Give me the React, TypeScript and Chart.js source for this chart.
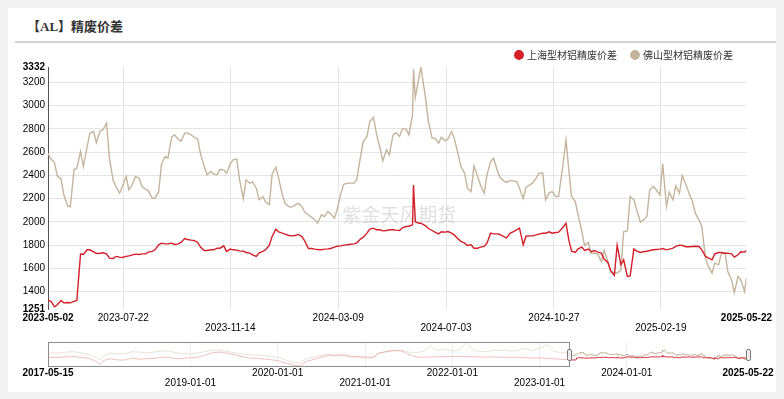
import React, { useEffect, useRef } from 'react';
import { Chart, registerables } from 'chart.js';
Chart.register(...registerables);

const BASE = Date.UTC(2023, 4, 2);
const toDay = (s: string) =>
  (Date.UTC(+s.slice(0, 4), +s.slice(5, 7) - 1, +s.slice(8, 10)) - BASE) / 86400000;

const SANS = '"Liberation Sans", Arial, sans-serif';
const CJK = '"Noto Sans CJK SC", sans-serif';
const RED = '#d31f2a';
const TAN = '#c4b49b';

const seriesNames = ['上海型材铝精废价差', '佛山型材铝精废价差'];

const dates = [
  '2023-05-02','2023-05-05','2023-05-09','2023-05-12','2023-05-16','2023-05-19','2023-05-23','2023-05-26','2023-05-30','2023-06-02',
  '2023-06-06','2023-06-09','2023-06-13','2023-06-16','2023-06-20','2023-06-23','2023-06-27','2023-06-30','2023-07-04','2023-07-07',
  '2023-07-11','2023-07-14','2023-07-18','2023-07-21','2023-07-25','2023-07-28','2023-08-01','2023-08-04','2023-08-08','2023-08-11',
  '2023-08-15','2023-08-18','2023-08-22','2023-08-25','2023-08-29','2023-09-01','2023-09-05','2023-09-08','2023-09-12','2023-09-15',
  '2023-09-19','2023-09-22','2023-09-26','2023-09-29','2023-10-03','2023-10-06','2023-10-10','2023-10-13','2023-10-17','2023-10-20',
  '2023-10-24','2023-10-27','2023-10-31','2023-11-03','2023-11-07','2023-11-10','2023-11-14','2023-11-17','2023-11-21','2023-11-24',
  '2023-11-28','2023-12-01','2023-12-05','2023-12-08','2023-12-12','2023-12-15','2023-12-19','2023-12-22','2023-12-26','2023-12-29',
  '2024-01-02','2024-01-05','2024-01-09','2024-01-12','2024-01-16','2024-01-19','2024-01-23','2024-01-26','2024-01-30','2024-02-02',
  '2024-02-06','2024-02-09','2024-02-13','2024-02-16','2024-02-20','2024-02-23','2024-02-27','2024-03-01','2024-03-05','2024-03-08',
  '2024-03-12','2024-03-15','2024-03-19','2024-03-22','2024-03-26','2024-03-29','2024-04-02','2024-04-05','2024-04-09','2024-04-12',
  '2024-04-16','2024-04-19','2024-04-23','2024-04-26','2024-04-30','2024-05-03','2024-05-07','2024-05-10','2024-05-14','2024-05-17',
  '2024-05-21','2024-05-24','2024-05-28','2024-05-29','2024-05-31','2024-06-04','2024-06-06','2024-06-11','2024-06-14','2024-06-18','2024-06-21',
  '2024-06-25','2024-06-28','2024-07-02','2024-07-05','2024-07-09','2024-07-12','2024-07-16','2024-07-19','2024-07-23','2024-07-26',
  '2024-07-30','2024-08-02','2024-08-06','2024-08-09','2024-08-13','2024-08-16','2024-08-20','2024-08-23','2024-08-27','2024-08-30',
  '2024-09-03','2024-09-06','2024-09-10','2024-09-13','2024-09-17','2024-09-20','2024-09-24','2024-09-27','2024-10-01','2024-10-04',
  '2024-10-08','2024-10-11','2024-10-15','2024-10-18','2024-10-22','2024-10-25','2024-10-29','2024-11-01','2024-11-05','2024-11-09',
  '2024-11-12','2024-11-15','2024-11-19','2024-11-22','2024-11-26','2024-11-29','2024-12-03','2024-12-06','2024-12-10','2024-12-13',
  '2024-12-17','2024-12-20','2024-12-24','2024-12-27','2024-12-31','2025-01-03','2025-01-07','2025-01-10','2025-01-14','2025-01-17',
  '2025-01-21','2025-01-24','2025-01-28','2025-01-31','2025-02-04','2025-02-07','2025-02-11','2025-02-14','2025-02-18','2025-02-21',
  '2025-02-25','2025-02-28','2025-03-04','2025-03-07','2025-03-11','2025-03-14','2025-03-18','2025-03-21','2025-03-25','2025-03-28',
  '2025-04-01','2025-04-04','2025-04-08','2025-04-11','2025-04-15','2025-04-18','2025-04-22','2025-04-25','2025-04-29','2025-05-02',
  '2025-05-06','2025-05-09','2025-05-13','2025-05-16','2025-05-20','2025-05-22'
];

const shValues = [
  1324,1319,1270,1287,1324,1304,1307,1304,1316,1324,
  1725,1720,1760,1760,1743,1728,1731,1734,1725,1688,
  1685,1703,1697,1694,1703,1708,1717,1723,1720,1725,
  1725,1740,1746,1760,1803,1817,1811,1811,1817,1806,
  1811,1823,1857,1849,1843,1840,1823,1783,1754,1754,
  1760,1760,1774,1774,1794,1746,1766,1760,1757,1751,
  1748,1737,1731,1717,1703,1734,1746,1760,1800,1874,
  1938,1915,1903,1895,1883,1880,1883,1892,1874,1837,
  1771,1771,1766,1763,1760,1766,1768,1771,1783,1791,
  1794,1800,1803,1808,1811,1820,1852,1869,1903,1938,
  1946,1932,1932,1923,1926,1932,1932,1929,1926,1949,
  1960,1963,1975,2318,2001,1989,1989,1966,1943,1926,1912,
  1897,1915,1912,1917,1903,1886,1854,1832,1817,1797,
  1803,1774,1774,1783,1789,1817,1903,1897,1897,1892,
  1874,1863,1903,1915,1932,1946,1803,1877,1880,1880,
  1889,1895,1903,1903,1915,1903,1909,1912,1946,1989,
  1846,1748,1737,1768,1783,1754,1766,1743,1754,1740,
  1731,1680,1651,1582,1540,1800,1631,1674,1531,1536,
  1768,1748,1737,1743,1748,1754,1760,1763,1766,1771,
  1760,1766,1774,1789,1800,1797,1786,1786,1789,1791,
  1789,1760,1703,1691,1674,1725,1737,1737,1731,1731,
  1725,1697,1717,1743,1740,1754
];

const fsValues = [
  2590,2542,2510,2396,2370,2233,2140,2130,2450,2462,
  2605,2476,2640,2763,2777,2682,2782,2791,2850,2548,
  2360,2304,2247,2304,2390,2275,2327,2390,2376,2304,
  2281,2267,2204,2204,2260,2496,2562,2548,2730,2748,
  2711,2694,2763,2763,2748,2728,2711,2585,2476,2405,
  2433,2413,2405,2453,2447,2419,2499,2533,2540,2362,
  2200,2362,2333,2344,2290,2190,2218,2170,2150,2413,
  2470,2376,2233,2158,2132,2127,2147,2161,2132,2084,
  2061,2041,2018,1989,2061,2046,2089,2069,2032,2109,
  2247,2324,2333,2333,2333,2362,2562,2691,2734,2863,
  2900,2763,2634,2525,2620,2576,2748,2768,2734,2800,
  2800,2748,2920,3313,3072,3250,3330,3063,2863,2720,2720,
  2677,2728,2697,2711,2777,2714,2582,2476,2419,2290,
  2261,2482,2390,2316,2247,2405,2519,2548,2447,2384,
  2353,2339,2356,2353,2347,2290,2200,2296,2319,2333,
  2376,2419,2420,2190,2250,2261,2218,2218,2447,2705,
  2450,2218,2175,2061,1917,1797,1823,1731,1731,1723,
  1660,1754,1660,1568,1565,1559,1588,1917,1923,2218,
  2190,2104,1998,2015,2046,2276,2304,2276,2232,2500,
  2132,2256,2190,2310,2247,2399,2319,2253,2175,2075,
  2018,1960,1688,1617,1559,1645,1631,1725,1731,1574,
  1502,1393,1531,1502,1402,1516
];

const yTicks = [1251, 1400, 1600, 1800, 2000, 2200, 2400, 2600, 2800, 3000, 3200, 3332];
const xTickDates = ['2023-05-02','2023-07-22','2023-11-14','2024-03-09','2024-07-03','2024-10-27','2025-02-19','2025-05-22'];
const xTickRow2 = ['2023-11-14','2024-07-03','2025-02-19'];

// overview (slider) history before the visible window
const histDates = [
  '2017-05-15','2017-06-01','2017-07-01','2017-08-01','2017-09-01','2017-10-01','2017-11-01','2017-12-01','2017-12-20','2018-01-01',
  '2018-02-01','2018-03-01','2018-04-01','2018-05-01','2018-06-01','2018-07-01','2018-08-01','2018-09-01','2018-10-01','2018-11-01',
  '2018-12-01','2019-01-01','2019-02-01','2019-03-01','2019-04-01','2019-05-01','2019-06-01','2019-07-01','2019-08-01','2019-09-01',
  '2019-10-01','2019-11-01','2019-12-01','2020-01-01','2020-02-01','2020-03-01','2020-04-01','2020-05-01','2020-06-01','2020-07-01',
  '2020-08-01','2020-09-01','2020-10-01','2020-11-01','2020-12-01','2021-01-01','2021-02-01','2021-03-01','2021-04-01','2021-05-01',
  '2021-06-01','2021-07-01','2021-08-01','2021-09-01','2021-10-01','2021-11-01','2021-12-01','2022-01-01','2022-02-01','2022-03-01',
  '2022-04-01','2022-05-01','2022-06-01','2022-07-01','2022-08-01','2022-09-01','2022-10-01','2022-11-01','2022-12-01','2023-01-01',
  '2023-02-01','2023-03-01','2023-04-01','2023-05-01'
];
const histFs = [
  2721,2721,2721,2924,2990,2721,2450,1841,1367,2044,
  2721,2518,2585,2990,2924,2721,2924,3127,3127,2788,
  2585,2585,2721,2990,3262,3330,3059,2788,2518,2382,
  2315,2180,2044,1841,1367,894,691,1571,1909,2247,
  2450,2382,2518,2180,1909,1638,1706,2721,3059,3262,
  3262,2924,2788,3059,4075,3195,3601,3059,3398,4900,
  3195,2990,3059,3262,3262,3127,3195,3668,3195,3736,
  4345,3059,2788,2721
];
const histSh = [
  1841,1841,1841,1976,1976,1841,1638,1029,352,1165,
  1571,1300,1300,1706,1435,1571,1638,1841,1841,1571,
  1638,1774,1841,2247,2721,2924,2721,2382,2044,1706,
  1638,1503,1367,1165,691,352,82,1029,1435,1841,
  2247,2112,2247,1909,1976,1909,1841,2721,2990,3195,
  3127,2518,1909,1841,1909,1976,1976,2044,2044,1976,
  1976,1909,1909,1909,1841,1841,1841,1774,1706,1706,
  1638,1571,1435,1367
];
const sliderTickDates = ['2017-05-15','2019-01-01','2020-01-01','2021-01-01','2022-01-01','2023-01-01','2024-01-01','2025-05-22'];
const sliderRow2 = ['2019-01-01','2021-01-01','2023-01-01'];

const pts = (ds: string[], vs: number[]) => ds.map((d, i) => ({ x: toDay(d), y: vs[i] }));
const CLEAR = 'rgba(0,0,0,0)';

export default function App() {
  const mainRef = useRef<HTMLCanvasElement>(null);
  const sliderRef = useRef<HTMLCanvasElement>(null);

  useEffect(() => {
    document.body.style.background = '#f2f2f2';
    const endDay = toDay('2025-05-22');

    const watermark = {
      id: 'watermark',
      beforeDatasetsDraw(chart: any) {
        const { ctx, chartArea } = chart;
        ctx.save();
        ctx.font = '19px ' + CJK;
        ctx.fillStyle = 'rgba(0,0,0,0.13)';
        ctx.textAlign = 'center';
        ctx.textBaseline = 'middle';
        ctx.fillText('紫金天风期货', (chartArea.left + chartArea.right) / 2 + 2, chartArea.top + 148);
        ctx.restore();
      },
    };

    const main = new Chart(mainRef.current!, {
      type: 'line',
      data: {
        datasets: [
          { label: seriesNames[0], data: pts(dates, shValues), borderColor: RED, backgroundColor: RED, borderWidth: 1.4, pointRadius: 0, tension: 0 },
          { label: seriesNames[1], data: pts(dates, fsValues), borderColor: TAN, backgroundColor: TAN, borderWidth: 1.4, pointRadius: 0, tension: 0 },
        ],
      },
      options: {
        animation: false,
        responsive: false,
        maintainAspectRatio: false,
        layout: { padding: { left: 0, right: 28, top: 0, bottom: 0 } },
        plugins: {
          legend: {
            position: 'top',
            align: 'end',
            maxHeight: 32,
            labels: {
              usePointStyle: true,
              pointStyle: 'circle',
              boxWidth: 6,
              boxHeight: 6,
              padding: 15,
              color: '#333',
              font: { size: 10, family: CJK },
            },
          },
          tooltip: { enabled: false },
        },
        scales: {
          x: {
            type: 'linear',
            min: 0,
            max: endDay,
            afterBuildTicks: (s: any) => { s.ticks = xTickDates.map((d) => ({ value: toDay(d) })); },
            afterFit: (s: any) => { s.height = 26; },
            border: { display: false },
            grid: {
              drawTicks: false,
              color: (c: any) => (c.index === 0 || c.index === xTickDates.length - 1 ? CLEAR : '#e4e4e4'),
            },
            ticks: {
              autoSkip: false,
              maxRotation: 0,
              padding: 4,
              color: '#000',
              font: (c: any) => ({ size: 10, family: SANS, lineHeight: 1, weight: c.index === 0 || c.index === xTickDates.length - 1 ? 'bold' : 'normal' }),
              callback: (_v: any, i: number) => {
                const d = xTickDates[i];
                return xTickRow2.includes(d) ? ['', d] : d;
              },
            },
          },
          y: {
            min: 1251,
            max: 3332,
            afterBuildTicks: (s: any) => { s.ticks = yTicks.map((v) => ({ value: v })); },
            afterFit: (s: any) => { s.width = 40; },
            border: { display: true, color: '#555' },
            grid: {
              drawTicks: false,
              color: (c: any) => (c.index === 0 || c.index === yTicks.length - 1 ? CLEAR : '#e4e4e4'),
            },
            ticks: {
              autoSkip: false,
              padding: 3,
              color: '#000',
              font: (c: any) => ({ size: 10, family: SANS, weight: c.index === 0 || c.index === yTicks.length - 1 ? 'bold' : 'normal' }),
              callback: (v: any) => String(v),
            },
          },
        },
      },
      plugins: [watermark],
    } as any);

    const sliderDeco = {
      id: 'sliderDeco',
      afterDraw(chart: any) {
        const { ctx, chartArea } = chart;
        const xs = chart.scales.x;
        const x0 = Math.round(xs.getPixelForValue(toDay('2017-05-15')));
        const x1 = Math.round(xs.getPixelForValue(0));
        const x2 = Math.round(xs.getPixelForValue(endDay));
        const top = Math.round(chartArea.top);
        const bottom = Math.round(chartArea.bottom);
        ctx.save();
        ctx.strokeStyle = '#8c8c8c';
        ctx.lineWidth = 1;
        ctx.strokeRect(x0 + 0.5, top + 0.5, x1 - x0, bottom - top - 1);
        [x1, x2].forEach((x) => {
          ctx.beginPath();
          ctx.roundRect(x - 2 + 0.5, top + 7.5, 4, 11, 1.5);
          ctx.fillStyle = '#eeeeee';
          ctx.fill();
          ctx.strokeStyle = '#7a7a7a';
          ctx.stroke();
        });
        ctx.restore();
      },
    };

    const slider = new Chart(sliderRef.current!, {
      type: 'line',
      data: {
        datasets: [
          { data: pts(dates, shValues), borderColor: RED, borderWidth: 1, pointRadius: 0, tension: 0 },
          { data: pts(dates, fsValues), borderColor: '#b9a78c', borderWidth: 1, pointRadius: 0, tension: 0 },
          { data: pts(histDates, histSh), borderColor: 'rgba(220,90,90,0.38)', borderWidth: 1, pointRadius: 0, tension: 0 },
          { data: pts(histDates, histFs), borderColor: 'rgba(190,172,145,0.35)', borderWidth: 1, pointRadius: 0, tension: 0 },
        ],
      },
      options: {
        animation: false,
        responsive: false,
        maintainAspectRatio: false,
        layout: { padding: { left: 40, right: 28, top: 4, bottom: 0 } },
        plugins: { legend: { display: false }, tooltip: { enabled: false } },
        scales: {
          x: {
            type: 'linear',
            min: toDay('2017-05-15'),
            max: endDay,
            afterBuildTicks: (s: any) => { s.ticks = sliderTickDates.map((d) => ({ value: toDay(d) })); },
            afterFit: (s: any) => { s.height = 25; },
            border: { display: false },
            grid: {
              drawTicks: false,
              color: (c: any) => (c.index === 0 || c.index === sliderTickDates.length - 1 ? CLEAR : '#f0f0f0'),
            },
            ticks: {
              autoSkip: false,
              maxRotation: 0,
              padding: 1,
              color: '#000',
              font: (c: any) => ({ size: 10, family: SANS, lineHeight: 1, weight: c.index === 0 || c.index === sliderTickDates.length - 1 ? 'bold' : 'normal' }),
              callback: (_v: any, i: number) => {
                const d = sliderTickDates[i];
                return sliderRow2.includes(d) ? ['', d] : d;
              },
            },
          },
          y: { display: false, min: -120, max: 4950 },
        },
      },
      plugins: [sliderDeco],
    } as any);

    return () => {
      main.destroy();
      slider.destroy();
    };
  }, []);

  return (
    <div style={{ position: 'relative', width: 768, height: 384, background: '#fff' }}>
      <div
        style={{
          position: 'absolute',
          left: 19,
          top: 11,
          font: 'bold 13px "Liberation Serif", "Noto Sans CJK SC", serif',
          lineHeight: '16px',
          color: '#333',
          whiteSpace: 'nowrap',
        }}
      >
        【AL】精废价差
      </div>
      <div style={{ position: 'absolute', left: 7, right: 0, top: 33, borderTop: '2px solid #d4d4d4' }} />
      <canvas ref={mainRef} width={768} height={300} style={{ position: 'absolute', left: 0, top: 27, width: 768, height: 300 }} />
      <canvas ref={sliderRef} width={768} height={54} style={{ position: 'absolute', left: 0, top: 330, width: 768, height: 54 }} />
    </div>
  );
}
